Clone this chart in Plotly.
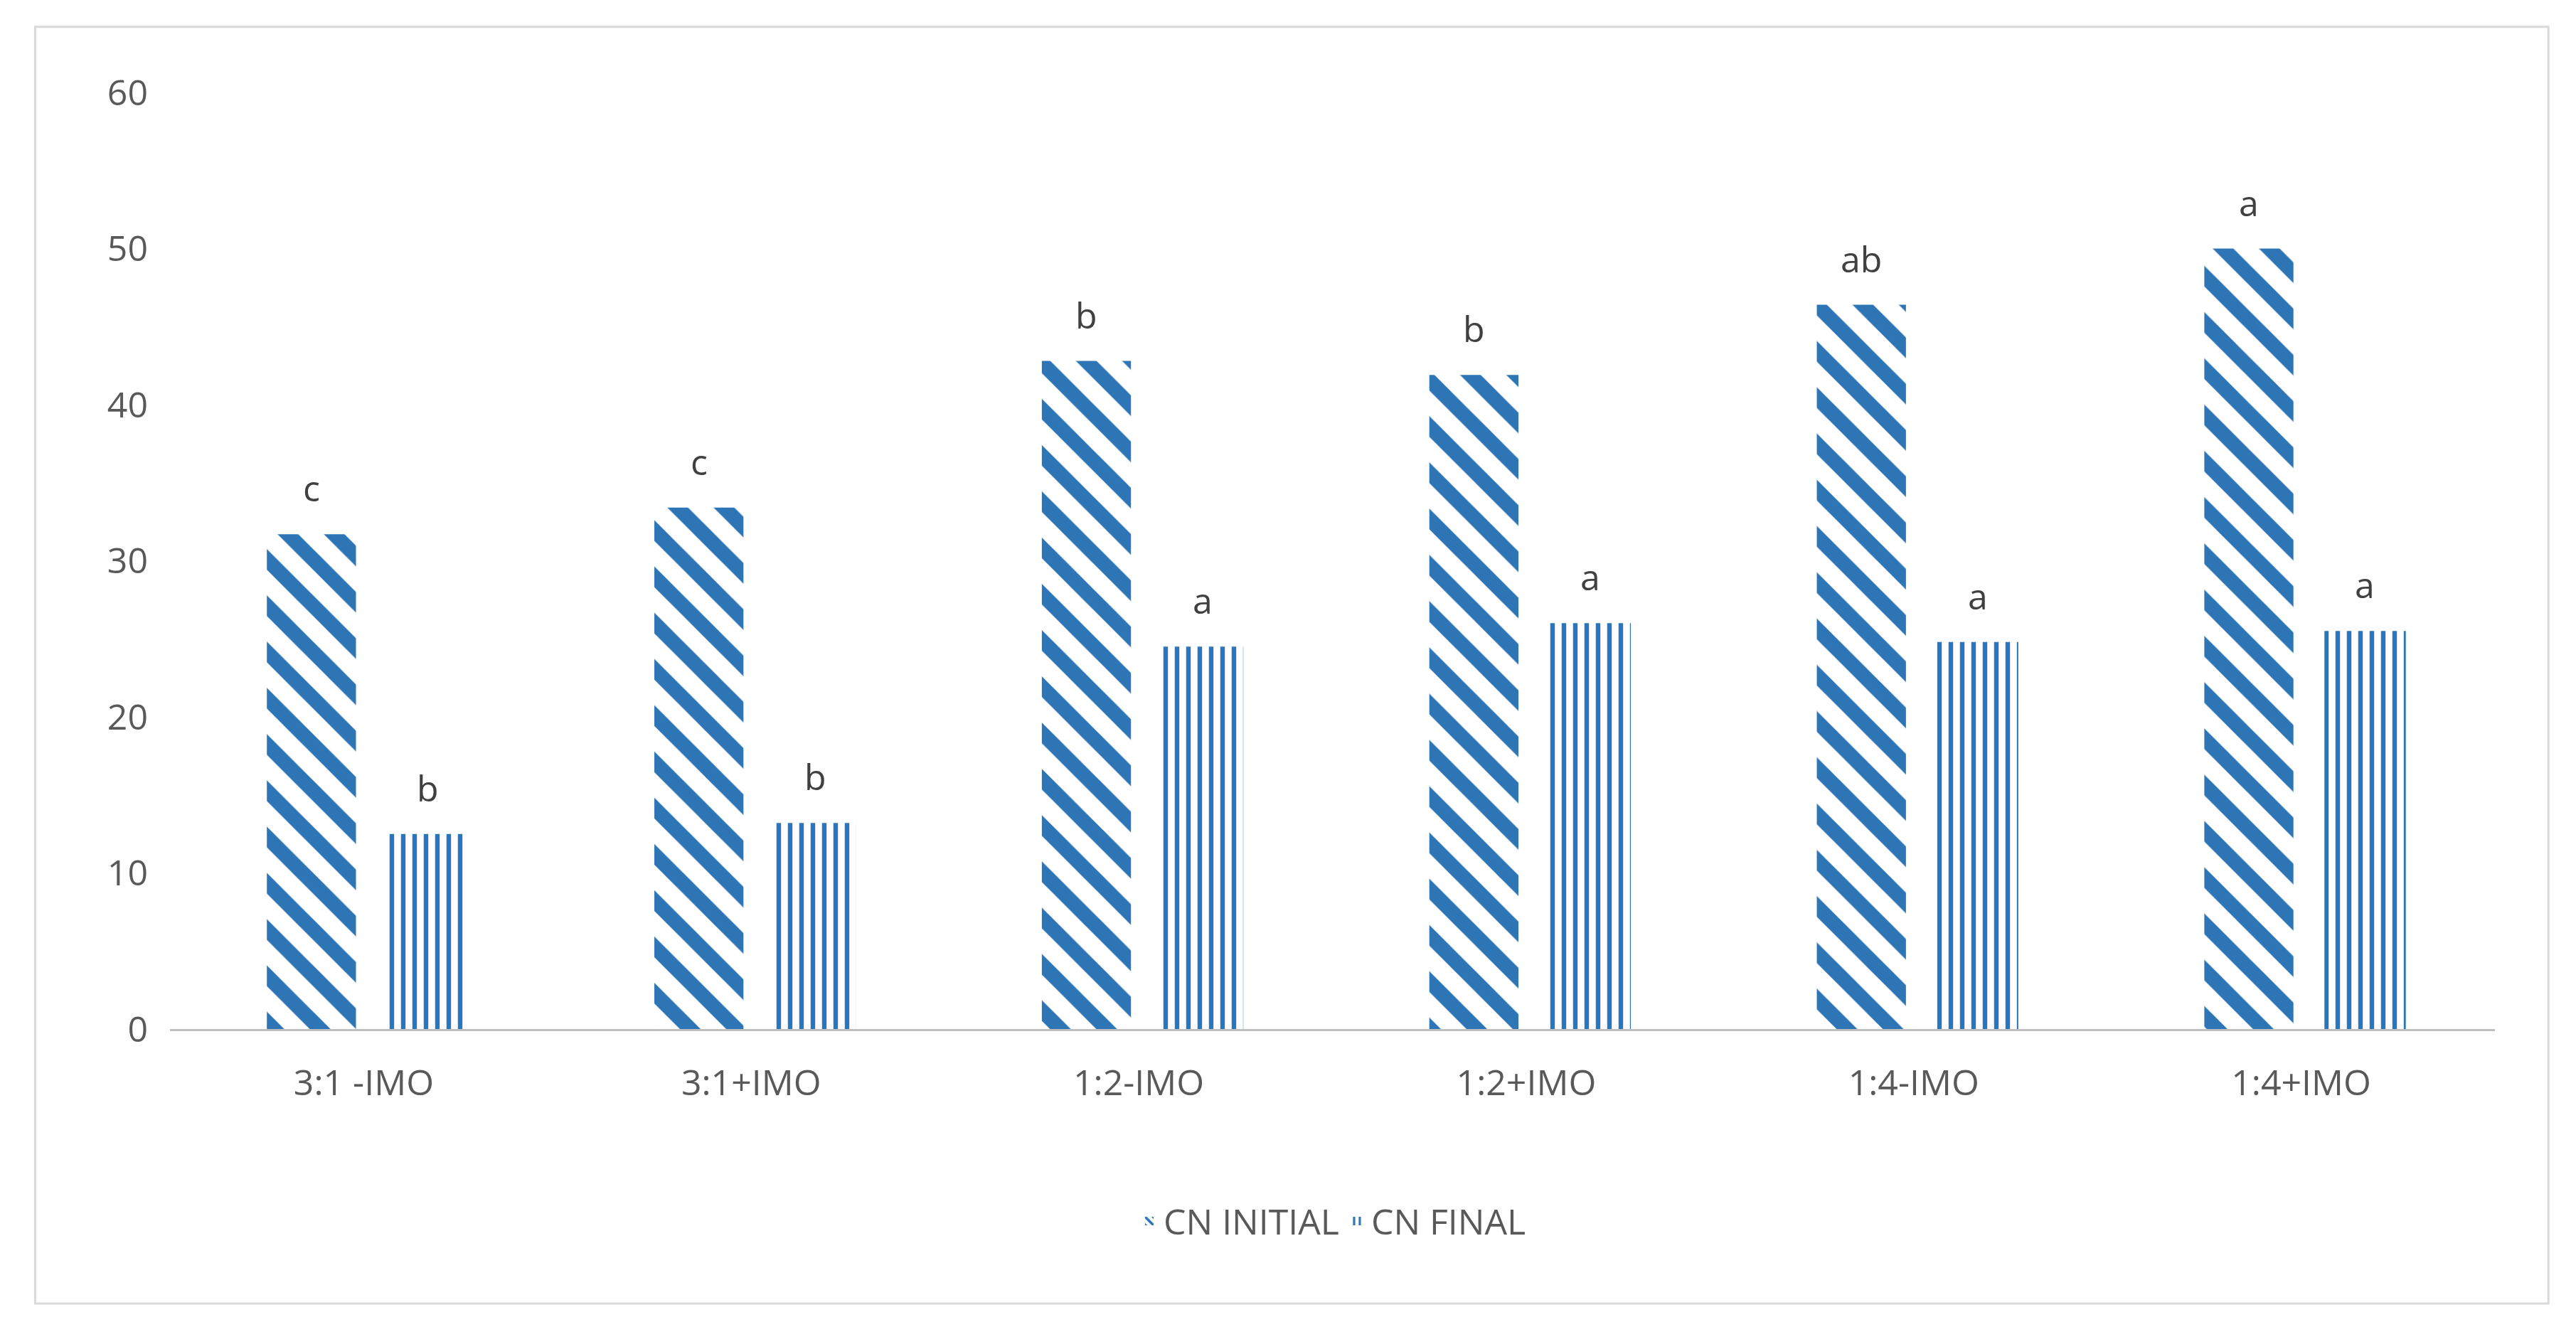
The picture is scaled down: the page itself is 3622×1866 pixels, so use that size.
import plotly.graph_objects as go

categories = ["3:1 -IMO", "3:1+IMO", "1:2-IMO", "1:2+IMO", "1:4-IMO", "1:4+IMO"]
cn_initial = [31.7, 33.4, 42.8, 41.9, 46.4, 50.0]
cn_final = [12.5, 13.2, 24.5, 26.0, 24.8, 25.5]
letters_initial = ["c", "c", "b", "b", "ab", "a"]
letters_final = ["b", "b", "a", "a", "a", "a"]

blue = "#2E75B6"
fig = go.Figure()
fig.add_bar(x=categories, y=cn_initial, name="CN INITIAL", width=0.23, offset=-0.25,
            marker=dict(color=blue, line=dict(width=0),
                        pattern=dict(shape="\\", fgcolor=blue, fgopacity=1, bgcolor="white",
                                     size=46, solidity=0.45)))
fig.add_bar(x=categories, y=cn_final, name="CN FINAL", width=0.21, offset=0.06,
            marker=dict(color=blue, line=dict(width=0),
                        pattern=dict(shape="|", fgcolor=blue, fgopacity=1, bgcolor="white",
                                     size=16, solidity=0.4)))

cat_px = 3269 / len(categories)
for cat, v, t in zip(categories, cn_initial, letters_initial):
    fig.add_annotation(x=cat, y=v, text=t, showarrow=False, xshift=-0.135 * cat_px,
                       yshift=65, font=dict(size=50, color="#404040"))
for cat, v, t in zip(categories, cn_final, letters_final):
    fig.add_annotation(x=cat, y=v, text=t, showarrow=False, xshift=0.165 * cat_px,
                       yshift=65, font=dict(size=50, color="#404040"))

fig.update_layout(
    width=3622, height=1866, paper_bgcolor="white", plot_bgcolor="white",
    margin=dict(l=231, r=122, t=122, b=427),
    font=dict(family="Open Sans, DejaVu Sans", size=50, color="#595959"),
    showlegend=True,
    legend=dict(orientation="h", x=0.5, xanchor="center", y=-0.205, yanchor="middle",
                font=dict(size=50, color="#595959")),
    xaxis=dict(showline=True, linecolor="#bfbfbf", linewidth=3, ticks="",
               tickfont=dict(size=50, color="#595959"), ticklabelstandoff=30),
    yaxis=dict(range=[0, 60], dtick=10, showgrid=False, zeroline=False, showline=False,
               tickfont=dict(size=50, color="#595959"), ticklabelstandoff=30),
)
fig.add_shape(type="rect", xref="paper", yref="paper", x0=-0.058, x1=1.023, y0=-0.293, y1=1.07,
              line=dict(color="#d9d9d9", width=3), fillcolor="rgba(0,0,0,0)")
fig.write_html("out.html")
